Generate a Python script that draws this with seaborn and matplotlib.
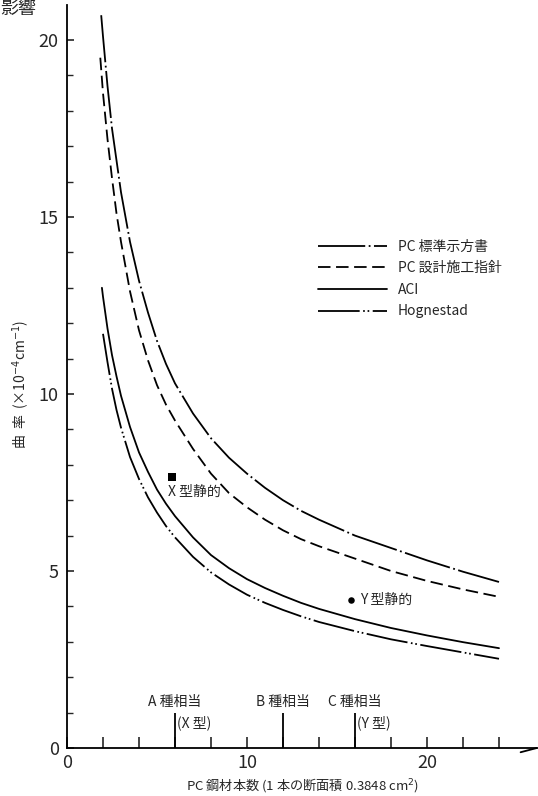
import matplotlib
matplotlib.use("Agg")
import matplotlib.pyplot as plt
import seaborn as sns
import pandas as pd
from matplotlib.ticker import MultipleLocator, FixedLocator

sns.set_style("ticks")
plt.rcParams['font.family'] = ['Noto Sans CJK JP', 'DejaVu Sans']
plt.rcParams['lines.scale_dashes'] = False
plt.rcParams['axes.unicode_minus'] = False

# ---- data ----
std_x = [1.9, 2.0, 2.25, 2.5, 2.75, 3.0, 3.5, 4.0, 4.5, 5.0, 5.5, 6.0, 7.0, 8.0, 9.0,
         10, 11, 12, 13, 14, 16, 18, 20, 22, 24]
std_y = [20.7, 20.1, 18.7, 17.5, 16.6, 15.7, 14.3, 13.2, 12.3, 11.5, 10.85, 10.3, 9.45,
         8.75, 8.2, 7.75, 7.35, 7.0, 6.7, 6.45, 6.0, 5.65, 5.3, 4.98, 4.69]

guide_x = [1.85, 2.0, 2.25, 2.5, 2.75, 3.0, 3.5, 4.0, 4.5, 5.0, 5.5, 6.0, 7.0, 8.0, 9.0,
           10, 11, 12, 13, 14, 16, 18, 20, 22, 24]
guide_y = [19.5, 18.5, 17.2, 16.1, 15.1, 14.3, 12.9, 11.8, 10.95, 10.25, 9.7, 9.25, 8.45,
           7.75, 7.2, 6.8, 6.45, 6.15, 5.9, 5.7, 5.35, 5.0, 4.72, 4.48, 4.27]

aci_x = [1.94, 2.0, 2.25, 2.5, 2.75, 3.0, 3.5, 4.0, 4.5, 5.0, 5.5, 6.0, 7.0, 8.0, 9.0,
         10, 11, 12, 13, 14, 16, 18, 20, 22, 24]
aci_y = [13.0, 12.75, 11.85, 11.1, 10.5, 9.95, 9.07, 8.35, 7.8, 7.3, 6.9, 6.55, 5.95,
         5.45, 5.08, 4.77, 4.52, 4.3, 4.1, 3.93, 3.64, 3.39, 3.18, 2.99, 2.82]

hog_x = [2.0, 2.25, 2.5, 2.75, 3.0, 3.5, 4.0, 4.5, 5.0, 5.5, 6.0, 7.0, 8.0, 9.0,
         10, 11, 12, 13, 14, 16, 18, 20, 22, 24]
hog_y = [11.7, 10.9, 10.15, 9.55, 9.05, 8.22, 7.6, 7.08, 6.65, 6.27, 5.95, 5.4, 4.96,
         4.62, 4.33, 4.1, 3.9, 3.72, 3.56, 3.3, 3.07, 2.88, 2.7, 2.52]

series_names = ["PC 標準示方書", "PC 設計施工指針", "ACI", "Hognestad"]

points_x = [5.85, 15.8]
points_y = [7.65, 4.18]
point_labels = ["X 型静的", "Y 型静的"]

class_x = [6, 12, 16]
class_labels = ["A 種相当", "B 種相当", "C 種相当"]
type_labels = ["(X 型)", "", "(Y 型)"]

xticklabels = ["0", "10", "20"]
yticklabels = ["0", "5", "10", "15", "20"]

# ---- figure ----
fig = plt.figure(figsize=(5.38, 7.96), dpi=100)
ax = fig.add_axes([67/538, 48/796, 470/538, 743/796])

styles = [
    (0, (34, 2.5, 1.3, 2.5)),
    (0, (9, 4)),
    "-",
    (0, (30, 2.5, 1.2, 2, 1.2, 2.5)),
]
data = [(std_x, std_y), (guide_x, guide_y), (aci_x, aci_y), (hog_x, hog_y)]
for (xs, ys), name, ls in zip(data, series_names, styles):
    df = pd.DataFrame({"x": xs, "y": ys})
    sns.lineplot(data=df, x="x", y="y", ax=ax, color="black",
                 linewidth=1.3, linestyle=ls, label=name)

# markers
sns.scatterplot(x=[points_x[0]], y=[points_y[0]], marker="s", s=30,
                color="black", ax=ax, legend=False, linewidth=0)
sns.scatterplot(x=[points_x[1]], y=[points_y[1]], marker="o", s=22,
                color="black", ax=ax, legend=False, linewidth=0)
ax.text(5.6, 7.23, point_labels[0], fontsize=10, ha="left", va="center")
ax.text(16.3, points_y[1], point_labels[1], fontsize=10, ha="left", va="center")

# class markers on the x axis
ax.vlines(class_x, 0, 1.0, color="black", linewidth=1.3)
for cx, cl, tl in zip(class_x, class_labels, type_labels):
    ax.text(cx, 1.3, cl, fontsize=10, ha="center", va="center")
    if tl:
        ax.text(cx + 0.1, 0.72, tl, fontsize=10, ha="left", va="center")

# axes styling
ax.set_xlim(0, 470/18)
ax.set_ylim(0, 743/35.4)
ax.xaxis.set_major_locator(FixedLocator([0, 10, 20]))
ax.xaxis.set_minor_locator(FixedLocator(list(range(2, 25, 2))))
ax.set_xticklabels(xticklabels)
ax.yaxis.set_major_locator(FixedLocator([0, 5, 10, 15, 20]))
ax.yaxis.set_minor_locator(MultipleLocator(1))
ax.set_yticklabels(yticklabels)
ax.tick_params(axis="x", which="both", direction="in", length=8, width=1.2,
               labelsize=13, pad=4)
ax.tick_params(axis="y", which="major", direction="in", length=5, width=1.2,
               labelsize=13, pad=6)
ax.tick_params(axis="y", which="minor", direction="in", length=4, width=1.0)
for s in ["top", "right"]:
    ax.spines[s].set_visible(False)
for s in ["left", "bottom"]:
    ax.spines[s].set_linewidth(1.3)
    ax.spines[s].set_color("black")

# small arrow-like stroke at the end of the x axis
ax.plot([25.2, 26.1], [-0.12, 0.0], color="black", linewidth=1.3, clip_on=False)

ax.set_xlabel("PC 鋼材本数 (1 本の断面積 0.3848 cm$^{2}$)", fontsize=9.5)
ax.xaxis.set_label_coords(0.5, -0.038)
ax.set_ylabel("曲  率  (×10$^{-4}$cm$^{-1}$)", fontsize=10)
ax.yaxis.set_label_coords(-0.075, 0.49)

leg = ax.legend(loc="upper left", bbox_to_anchor=((312-67)/470, (748-234)/743),
                frameon=False, fontsize=10, handlelength=5.0,
                labelspacing=0.55, handletextpad=0.8, borderaxespad=0)

fig.text(0.0, 1.0, "影響", fontsize=13, ha="left", va="top")

fig.savefig("out.png", dpi=100, facecolor="white")
